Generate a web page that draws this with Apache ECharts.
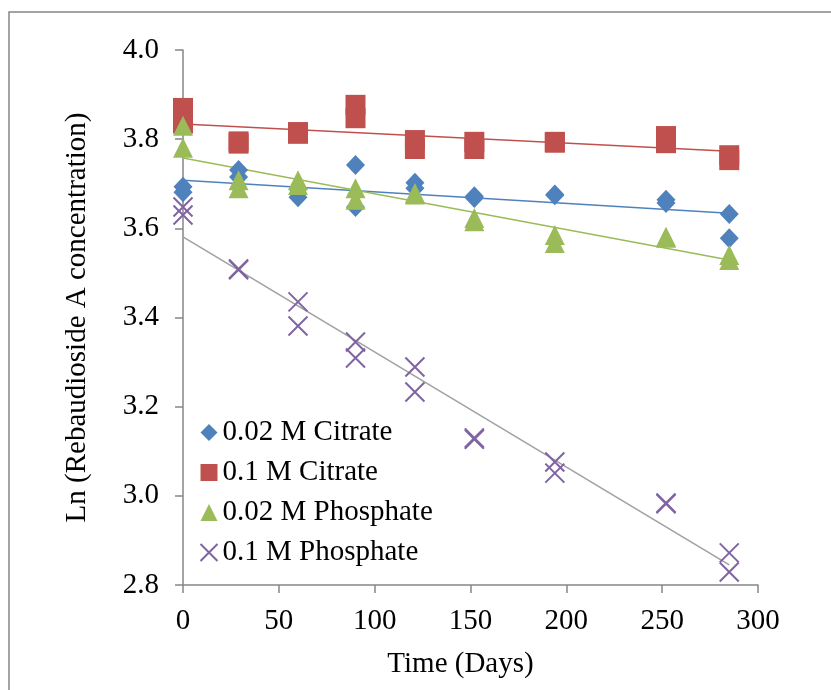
<!DOCTYPE html>
<html>
<head>
<meta charset="utf-8">
<script src="https://cdn.jsdelivr.net/npm/echarts@6/dist/echarts.min.js"></script>
<style>
html,body{margin:0;padding:0;background:#fff;}
#chart{width:831px;height:690px;}
</style>
</head>
<body>
<div id="chart"></div>
<script>
// Days of measurement
var days = [0, 29, 60, 90, 121, 152, 194, 252, 285];

// Ln(Rebaudioside A concentration), two replicates per series
var citrate002A = [3.693, 3.731, 3.670, 3.742, 3.702, 3.672, 3.676, 3.664, 3.632];
var citrate002B = [3.681, 3.715, 3.688, 3.648, 3.690, 3.668, 3.674, 3.657, 3.578];
var citrate01A  = [3.870, 3.795, 3.816, 3.877, 3.798, 3.794, 3.794, 3.807, 3.764];
var citrate01B  = [3.835, 3.790, 3.812, 3.847, 3.778, 3.778, 3.792, 3.791, 3.753];
var phos002A    = [3.830, 3.708, 3.708, 3.690, 3.679, 3.623, 3.585, 3.581, 3.540];
var phos002B    = [3.781, 3.690, 3.697, 3.664, 3.676, 3.616, 3.567, 3.579, 3.529];
var phos01A     = [3.648, 3.509, 3.435, 3.345, 3.289, 3.130, 3.076, 2.984, 2.872];
var phos01B     = [3.630, 3.507, 3.381, 3.309, 3.233, 3.127, 3.051, 2.982, 2.829];

// Linear trend line endpoints (day 0 and day 285)
var trendDays = [0, 285];
var trendCitrate002 = [3.708, 3.634];
var trendCitrate01  = [3.834, 3.773];
var trendPhos002    = [3.758, 3.529];
var trendPhos01     = [3.581, 2.845];

var seriesNames = ['0.02 M Citrate', '0.1 M Citrate', '0.02 M Phosphate', '0.1 M Phosphate'];
var xTicks = [0, 50, 100, 150, 200, 250, 300];
var yTicks = [2.8, 3.0, 3.2, 3.4, 3.6, 3.8, 4.0];

function pairs(xs, a, b) {
  var out = [];
  for (var i = 0; i < xs.length; i++) {
    out.push([xs[i], a[i]]);
    if (b) out.push([xs[i], b[i]]);
  }
  return out;
}

var FONT = '"Liberation Serif", "Times New Roman", serif';
var AXIS = '#868686';
var colors = ['#4F81BD', '#C0504D', '#9BBB59', '#8064A2'];

var chart = echarts.init(document.getElementById('chart'), null, {renderer: 'canvas'});

var trendStyle = function (c) {
  return {
    type: 'line', symbol: 'none', silent: true, z: 1,
    lineStyle: {color: c, width: 1.5}, animation: false
  };
};

var option = {
  animation: false,
  backgroundColor: '#ffffff',
  textStyle: {fontFamily: FONT},
  graphic: [{
    type: 'rect', silent: true, z: -10,
    shape: {x: 9, y: 12, width: 900, height: 900},
    style: {fill: 'none', stroke: AXIS, lineWidth: 1.5}
  }],
  grid: {left: 183, right: 73, top: 50, bottom: 105, containLabel: false},
  legend: {
    orient: 'vertical', left: 193, top: 413,
    itemWidth: 17, itemHeight: 17, itemGap: 11,
    data: seriesNames,
    textStyle: {fontFamily: FONT, fontSize: 29, color: '#000'}
  },
  xAxis: {
    type: 'value', min: xTicks[0], max: xTicks[xTicks.length - 1], interval: 50,
    name: 'Time (Days)', nameLocation: 'middle', nameGap: 65,
    nameTextStyle: {fontFamily: FONT, fontSize: 29, color: '#000', padding: [0, 20, 0, 0]},
    axisLine: {show: true, lineStyle: {color: AXIS, width: 1.5}},
    axisTick: {show: true, inside: false, length: 8, lineStyle: {color: AXIS, width: 1.5}},
    axisLabel: {fontFamily: FONT, fontSize: 29, color: '#000', margin: 22},
    splitLine: {show: false}
  },
  yAxis: {
    type: 'value', min: yTicks[0], max: yTicks[yTicks.length - 1], interval: 0.2,
    name: 'Ln (Rebaudioside A concentration)', nameLocation: 'middle', nameGap: 91,
    nameTextStyle: {fontFamily: FONT, fontSize: 29, color: '#000'},
    axisLine: {show: true, lineStyle: {color: AXIS, width: 1.5}},
    axisTick: {show: true, inside: false, length: 8, lineStyle: {color: AXIS, width: 1.5}},
    axisLabel: {fontFamily: FONT, fontSize: 29, color: '#000', margin: 24,
      formatter: function (v) { return v.toFixed(1); }},
    splitLine: {show: false}
  },
  series: [
    Object.assign(trendStyle(colors[0]), {name: 'trend1', data: pairs(trendDays, trendCitrate002)}),
    Object.assign(trendStyle(colors[1]), {name: 'trend2', data: pairs(trendDays, trendCitrate01)}),
    Object.assign(trendStyle(colors[2]), {name: 'trend3', data: pairs(trendDays, trendPhos002)}),
    Object.assign(trendStyle('#A0A0A0'), {name: 'trend4', data: pairs(trendDays, trendPhos01)}),
    {
      name: seriesNames[0], type: 'scatter', z: 3, symbol: 'diamond', symbolSize: [19, 20],
      itemStyle: {color: colors[0], opacity: 1},
      data: pairs(days, citrate002A, citrate002B)
    },
    {
      name: seriesNames[1], type: 'scatter', z: 3, symbol: 'rect', symbolSize: 20,
      itemStyle: {color: colors[1], opacity: 1},
      data: pairs(days, citrate01A, citrate01B)
    },
    {
      name: seriesNames[2], type: 'scatter', z: 4, symbol: 'triangle', symbolSize: 20,
      itemStyle: {color: colors[2], opacity: 1},
      data: pairs(days, phos002A, phos002B)
    },
    {
      name: seriesNames[3], type: 'scatter', z: 5,
      symbol: 'path://M0,0L10,10M0,10L10,0', symbolSize: 19,
      itemStyle: {color: 'none', borderColor: colors[3], borderWidth: 2, opacity: 1},
      data: pairs(days, phos01A, phos01B)
    }
  ]
};

chart.setOption(option);
</script>
</body>
</html>
